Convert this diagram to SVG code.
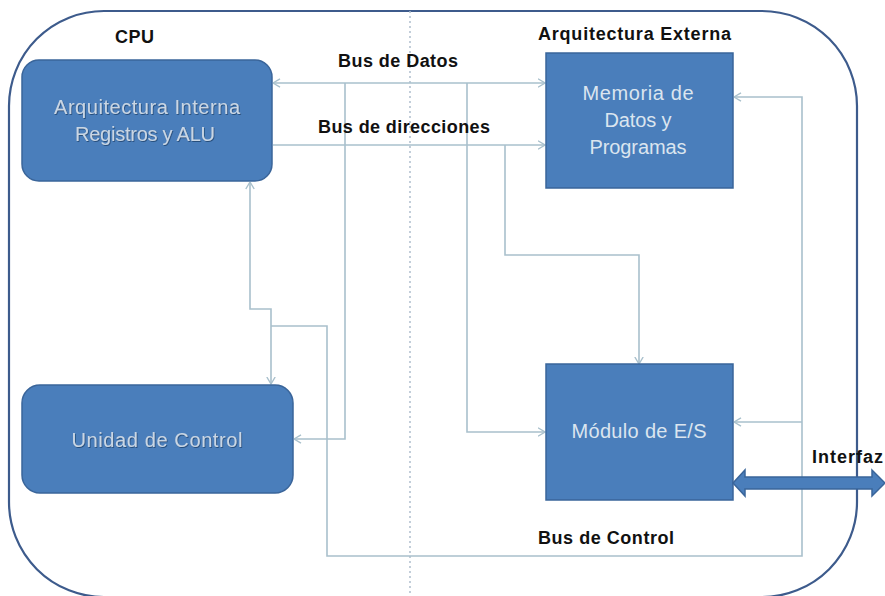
<svg xmlns="http://www.w3.org/2000/svg" width="885" height="596" viewBox="0 0 885 596">
  <style>
    .frame { fill: none; stroke: #3d5b8c; stroke-width: 2.2; }
    .divider { fill: none; stroke: #a9b9c9; stroke-width: 1.4; stroke-dasharray: 2 3; }
    .node { fill: #4a7ebb; stroke: #3a659a; stroke-width: 1.5; }
    .wire { fill: none; stroke: #a9c0cc; stroke-width: 1.6; }
    .label { font-family: "Liberation Sans", Arial, sans-serif; font-weight: bold; font-size: 18px; fill: #111; }
    .ntext { font-family: "Liberation Sans", Arial, sans-serif; font-size: 20px; fill: #dbe5ef; text-anchor: middle; }
    .emboss { fill: #c9d6e4; filter: url(#emb); }
  </style>
  <defs>
    <marker id="tip" viewBox="0 0 8 10" refX="7.5" refY="5" markerWidth="8" markerHeight="10" markerUnits="userSpaceOnUse" orient="auto-start-reverse">
      <path d="M0.5,0.8 L7.5,5 L0.5,9.2" fill="none" stroke="#a9c0cc" stroke-width="1.4"/>
    </marker>
    <filter id="emb" x="-5%" y="-20%" width="110%" height="140%">
      <feDropShadow dx="0.8" dy="1" stdDeviation="0.6" flood-color="#1f3c66" flood-opacity="0.75"/>
    </filter>
  </defs>

  <!-- outer system frame and CPU / external divider -->
  <rect class="frame" x="9" y="11" width="848" height="586" rx="95" ry="95"/>
  <line class="divider" x1="410" y1="11" x2="410" y2="596"/>

  <!-- bus wiring -->
  <g id="connectors">
    <path class="wire" d="M273,83 H545" marker-start="url(#tip)" marker-end="url(#tip)"/>
    <path class="wire" d="M345,83 V439 H294" marker-end="url(#tip)"/>
    <path class="wire" d="M467,83 V432 H545" marker-end="url(#tip)"/>
    <path class="wire" d="M273,145 H545" marker-end="url(#tip)"/>
    <path class="wire" d="M505,145 V255 H639 V364" marker-end="url(#tip)"/>
    <path class="wire" d="M250,182 V309 H271 V384" marker-start="url(#tip)" marker-end="url(#tip)"/>
    <path class="wire" d="M271,326 H327 V556 H802 V97 H734" marker-end="url(#tip)"/>
    <path class="wire" d="M802,422 H734" marker-end="url(#tip)"/>
  </g>

  <g id="alu">
    <rect class="node" x="22" y="60" width="250" height="121" rx="17" ry="17"/>
    <text class="ntext emboss" x="147" y="114" textLength="186" lengthAdjust="spacing">Arquitectura Interna</text>
    <text class="ntext emboss" x="145" y="141" textLength="140" lengthAdjust="spacing">Registros y ALU</text>
  </g>

  <g id="control-unit">
    <rect class="node" x="22" y="385" width="271" height="108" rx="18" ry="18"/>
    <text class="ntext emboss" x="157" y="447" textLength="171" lengthAdjust="spacing">Unidad de Control</text>
  </g>

  <g id="memory">
    <rect class="node" x="546" y="53" width="187" height="135"/>
    <text class="ntext" x="638" y="100" textLength="111" lengthAdjust="spacing">Memoria de</text>
    <text class="ntext" x="638" y="127" textLength="67" lengthAdjust="spacing">Datos y</text>
    <text class="ntext" x="638" y="154" textLength="97" lengthAdjust="spacing">Programas</text>
  </g>

  <g id="io-module">
    <rect class="node" x="546" y="364" width="187" height="136"/>
    <text class="ntext" x="639" y="438" textLength="135" lengthAdjust="spacing">Módulo de E/S</text>
  </g>

  <!-- external interface, double-headed -->
  <g id="interface">
    <polygon class="node" points="733,483 745,470 745,477 872,477 872,470 885,483 872,496 872,489 745,489 745,496"/>
  </g>

  <g id="labels">
    <text class="label" x="115" y="43" textLength="39" lengthAdjust="spacing">CPU</text>
    <text class="label" x="338" y="67" textLength="120" lengthAdjust="spacing">Bus de Datos</text>
    <text class="label" x="318" y="133" textLength="172" lengthAdjust="spacing">Bus de direcciones</text>
    <text class="label" x="538" y="40" textLength="193" lengthAdjust="spacing">Arquitectura Externa</text>
    <text class="label" x="538" y="544" textLength="136" lengthAdjust="spacing">Bus de Control</text>
    <text class="label" x="812" y="463" textLength="71" lengthAdjust="spacing">Interfaz</text>
  </g>
</svg>
